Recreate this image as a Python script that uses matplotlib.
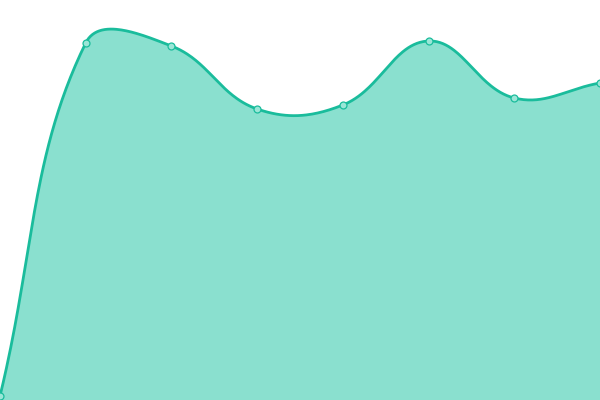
import numpy as np
import matplotlib
matplotlib.use("Agg")
import matplotlib.pyplot as plt

labels = ["A", "B", "C", "D", "E", "F", "G", "H"]
values = [0, 353, 350, 287, 291, 355, 298, 313]

LINE = "#1abc9c"
FILL = "#8ae0cf"
TENSION = 0.4

fig = plt.figure(figsize=(6, 4), dpi=100)
ax = fig.add_axes([0, 0, 1, 1])
ax.set_xlim(0, len(values) - 1)
ax.set_ylim(-4, 396)
ax.axis("off")

x = np.arange(len(values), dtype=float)
pts = ax.transData.transform(np.column_stack([x, values]))

# Chart.js-style spline control points (pixel space)
n = len(pts)
cps = []
for i in range(n):
    prev = pts[i - 1] if i > 0 else pts[i]
    cur = pts[i]
    nxt = pts[i + 1] if i < n - 1 else pts[i]
    d01 = np.hypot(*(cur - prev))
    d12 = np.hypot(*(nxt - cur))
    s = d01 + d12
    fa = TENSION * d01 / s if s else 0
    fb = TENSION * d12 / s if s else 0
    cp_prev = cur - fa * (nxt - prev)
    cp_next = cur + fb * (nxt - prev)
    cps.append((cp_prev, cp_next))

t = np.linspace(0, 1, 60)[:, None]
curve = []
for i in range(n - 1):
    p0 = pts[i]
    c1 = cps[i][1]
    c2 = cps[i + 1][0]
    p3 = pts[i + 1]
    seg = (1 - t) ** 3 * p0 + 3 * (1 - t) ** 2 * t * c1 + 3 * (1 - t) * t ** 2 * c2 + t ** 3 * p3
    curve.append(seg if i == 0 else seg[1:])
curve = np.vstack(curve)
curve_d = ax.transData.inverted().transform(curve)

ax.fill_between(curve_d[:, 0], curve_d[:, 1], -4, color=FILL, lw=0, zorder=1)
ax.plot(curve_d[:, 0], curve_d[:, 1], color=LINE, lw=2.0, zorder=2, solid_capstyle="round")
ax.plot(x, values, "o", ms=5, mfc="#9be6d7", mec=LINE, mew=0.9, zorder=3, clip_on=True)

fig.savefig("out.png", dpi=100)
